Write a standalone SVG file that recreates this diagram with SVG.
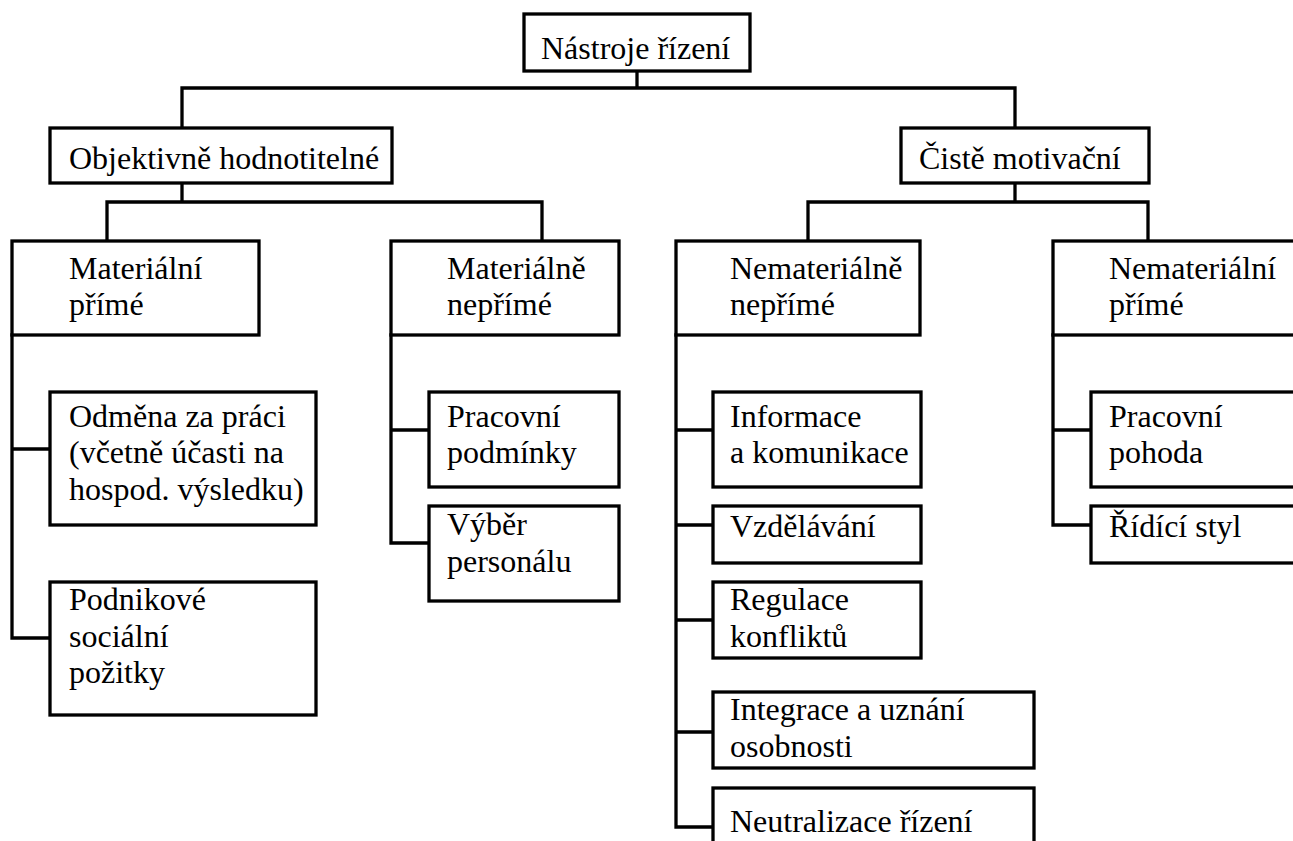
<svg xmlns="http://www.w3.org/2000/svg" width="1293" height="841" viewBox="0 0 1293 841">
<style>
.box{fill:#fff;stroke:#000;stroke-width:3.3}
.c{fill:none;stroke:#000;stroke-width:3.3;stroke-linecap:square;stroke-linejoin:miter}
.t{font-family:'Liberation Serif','Times New Roman',Tinos,'DejaVu Serif',serif;font-size:32px;fill:#000}
</style>
<rect width="1293" height="841" fill="#fff"/>
<g id="connectors">
<path class="c" d="M637 71V88M182 88H1015M182 88V128M1015 88V128"/>
<path class="c" d="M182 183V202M107 202H542M107 202V241M542 202V241"/>
<path class="c" d="M1015 183V202M808 202H1148M808 202V241M1148 202V241"/>
<path class="c" d="M12 335V638H50M12 449H50"/>
<path class="c" d="M391 335V543H429M391 430H429"/>
<path class="c" d="M676 335V827H713M676 430H713M676 525H713M676 620H713M676 732H713"/>
<path class="c" d="M1053 335V525H1091M1053 430H1091"/>
</g>
<g class="t" font-family="Liberation Serif, Times New Roman, serif">
<g id="root"><rect class="box" x="524" y="14" width="226" height="57"/><text x="541" y="59">Nástroje řízení</text></g>
<g id="objektivne"><rect class="box" x="50" y="128" width="342" height="55"/><text x="69" y="169">Objektivně hodnotitelné</text></g>
<g id="ciste"><rect class="box" x="901" y="128" width="248" height="55"/><text x="919" y="169">Čistě motivační</text></g>
<g id="mat-prime"><rect class="box" x="12" y="241" width="247" height="94"/><text x="69" y="279">Materiální</text><text x="69" y="315">přímé</text></g>
<g id="mat-neprime"><rect class="box" x="391" y="241" width="228" height="94"/><text x="447" y="279">Materiálně</text><text x="447" y="315">nepřímé</text></g>
<g id="nemat-neprime"><rect class="box" x="676" y="241" width="244" height="94"/><text x="730" y="279">Nemateriálně</text><text x="730" y="315">nepřímé</text></g>
<g id="nemat-prime"><rect class="box" x="1053" y="241" width="260" height="94"/><text x="1109" y="279">Nemateriální</text><text x="1109" y="315">přímé</text></g>
<g id="odmena"><rect class="box" x="50" y="392" width="266" height="133"/><text x="69" y="427">Odměna za práci</text><text x="69" y="463">(včetně účasti na</text><text x="69" y="500">hospod. výsledku)</text></g>
<g id="podnikove"><rect class="box" x="50" y="582" width="266" height="133"/><text x="69" y="610">Podnikové</text><text x="69" y="647">sociální</text><text x="69" y="683">požitky</text></g>
<g id="pracovni-podminky"><rect class="box" x="429" y="392" width="190" height="95"/><text x="447" y="427">Pracovní</text><text x="447" y="463">podmínky</text></g>
<g id="vyber"><rect class="box" x="429" y="506" width="190" height="95"/><text x="447" y="535">Výběr</text><text x="447" y="572">personálu</text></g>
<g id="informace"><rect class="box" x="713" y="392" width="208" height="95"/><text x="730" y="427">Informace</text><text x="730" y="463">a komunikace</text></g>
<g id="vzdelavani"><rect class="box" x="713" y="506" width="208" height="57"/><text x="730" y="537">Vzdělávání</text></g>
<g id="regulace"><rect class="box" x="713" y="582" width="208" height="76"/><text x="730" y="610">Regulace</text><text x="730" y="647">konfliktů</text></g>
<g id="integrace"><rect class="box" x="713" y="692" width="321" height="76"/><text x="730" y="720">Integrace a uznání</text><text x="730" y="757">osobnosti</text></g>
<g id="neutralizace"><rect class="box" x="713" y="788" width="321" height="80"/><text x="730" y="832">Neutralizace řízení</text></g>
<g id="pohoda"><rect class="box" x="1091" y="392" width="230" height="95"/><text x="1109" y="427">Pracovní</text><text x="1109" y="463">pohoda</text></g>
<g id="ridici"><rect class="box" x="1091" y="506" width="230" height="57"/><text x="1109" y="537">Řídící styl</text></g>
</g>
</svg>
